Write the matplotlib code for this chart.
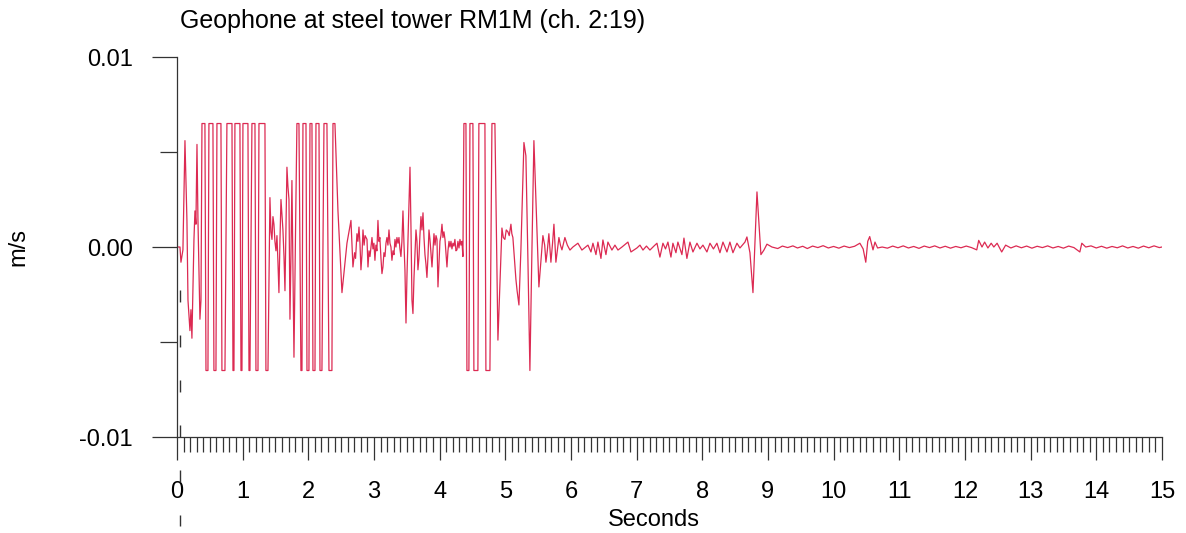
import numpy as np
import matplotlib
matplotlib.use("Agg")
import matplotlib.pyplot as plt
from matplotlib.ticker import MultipleLocator

plt.rcParams['font.family'] = ['Liberation Sans', 'DejaVu Sans']

# geophone trace as (time s, velocity mm/s); the recorder clips at +-6.5 mm/s
onset = [(0, 0), (0.046, 0), (0.061, -0.8), (0.091, -0.15), (0.122, 5.6),
         (0.152, 1.4), (0.168, -2.8), (0.198, -4.4), (0.213, -3.3), (0.228, -4.8),
         (0.259, 0.4), (0.274, 1.9), (0.289, 1.2), (0.305, 5.4), (0.320, 1.4),
         (0.350, -3.8), (0.366, -2.8), (0.381, 6.5), (0.426, 6.5), (0.442, -6.5),
         (0.472, -6.5), (0.487, 6.5), (0.548, 6.5), (0.563, -6.5), (0.594, -6.5),
         (0.609, 6.5), (0.670, 6.5), (0.685, -6.5), (0.731, -6.5), (0.761, 6.5),
         (0.838, 6.5), (0.853, -6.5), (0.868, -6.5), (0.883, 6.5), (0.959, 6.5),
         (0.975, -6.5), (0.990, -6.5), (1.005, 6.5), (1.081, 6.5), (1.097, -6.5),
         (1.112, -6.5), (1.142, 6.5), (1.188, 6.5), (1.203, -6.5), (1.234, -6.5),
         (1.249, 6.5), (1.340, 6.5), (1.355, -6.5), (1.386, -6.5), (1.416, 2.6)]

burst2 = [(1.432, 0.8), (1.447, 0.4), (1.462, 1.6), (1.477, 1.2), (1.492, 0.3),
          (1.508, -0.2), (1.523, 0.6), (1.538, -0.8), (1.553, -2.4), (1.569, 0.4),
          (1.584, 2.5), (1.599, 1.7), (1.614, 0.9), (1.630, -0.5), (1.645, -2.3),
          (1.660, 0.8), (1.675, 4.2), (1.690, 3.2), (1.706, 2.5), (1.721, -3.8),
          (1.736, -0.5), (1.751, 3.5), (1.766, -1.0), (1.782, -5.8), (1.797, -1.5),
          (1.812, 2.5), (1.827, 6.5), (1.858, 6.5), (1.888, -6.5), (1.904, -6.5),
          (1.919, 6.5), (1.965, 6.5), (1.980, -6.5), (2.010, -6.5), (2.026, 6.5),
          (2.056, 6.5), (2.071, -6.5), (2.102, -6.5), (2.117, 6.5), (2.163, 6.5),
          (2.178, -6.5), (2.208, -6.5), (2.239, 6.5), (2.284, 6.5), (2.315, -6.5),
          (2.360, -6.5), (2.376, 6.5), (2.406, 6.5), (2.452, 1.9), (2.513, -2.4),
          (2.589, 0.2), (2.650, 1.4)]

mid = [(2.680, -1.05), (2.705, -0.3), (2.720, -0.6), (2.741, 0.7), (2.756, 0.3),
       (2.772, 1.05), (2.787, 0.2), (2.802, -1.2), (2.818, -0.4), (2.833, 0.9),
       (2.850, 0.1), (2.865, 0.6), (2.894, 0.4), (2.909, -1.05), (2.925, -0.2),
       (2.940, -0.5), (2.970, 0.5), (2.985, -0.1), (3.000, 0.2), (3.015, -0.7),
       (3.030, 0.1), (3.045, -0.2), (3.061, 1.4), (3.076, 0.3), (3.090, 0.5),
       (3.107, -0.6), (3.122, -1.4), (3.137, -1.05), (3.152, -0.3), (3.168, -0.5),
       (3.183, 0.2), (3.198, 0.5), (3.213, 0.1), (3.229, 0.9), (3.244, 0.2),
       (3.259, 0.0), (3.274, -0.7), (3.290, -0.2), (3.305, -0.4), (3.320, 0.4),
       (3.335, 0.0), (3.350, 0.5), (3.366, 0.2), (3.381, 0.5), (3.396, -0.1),
       (3.411, -0.5), (3.426, 0.3), (3.442, 1.9), (3.457, 0.2), (3.472, -1.2),
       (3.488, -4.0), (3.503, -1.5), (3.518, 0.4), (3.533, 2.2), (3.549, 4.2),
       (3.564, 1.0), (3.579, -2.8), (3.594, -3.5), (3.610, -1.6), (3.625, -0.3),
       (3.640, 0.9), (3.655, 0.3), (3.670, -1.2), (3.685, -0.6), (3.700, 0.6),
       (3.716, 1.6), (3.731, 0.9), (3.747, 1.8), (3.762, 0.5), (3.777, -0.4),
       (3.792, -0.9), (3.807, -1.6), (3.823, -0.5), (3.838, 0.9), (3.853, 0.4),
       (3.868, -0.3), (3.884, -1.05), (3.899, -0.2), (3.914, 0.7), (3.930, 0.1),
       (3.945, 0.6), (3.960, 0.4), (3.975, -2.1), (3.990, -0.9), (4.005, 0.3),
       (4.020, 0.6), (4.036, 1.2), (4.051, 0.5), (4.066, 0.8), (4.082, 0.4),
       (4.097, -0.3), (4.112, -1.05), (4.127, -0.2), (4.143, 0.3), (4.158, 0.0),
       (4.173, 0.3), (4.188, -0.1), (4.203, 0.2), (4.218, 0.05), (4.233, 0.4),
       (4.249, -0.2), (4.264, -0.15), (4.279, 0.3), (4.295, -0.05), (4.310, 0.4),
       (4.325, 0.1), (4.340, 0.3), (4.355, -0.5)]

burst3 = [(4.370, 6.5), (4.401, 6.5), (4.416, -6.5), (4.446, -6.5), (4.462, 6.5),
          (4.507, 6.5), (4.522, -6.5), (4.583, -6.5), (4.598, 6.5), (4.690, 6.5),
          (4.705, -6.5), (4.766, -6.5), (4.797, 6.5), (4.842, 6.5), (4.888, -4.9),
          (4.949, 1.0), (4.970, 0.5), (4.994, 0.4), (5.015, 0.9), (5.040, 0.8),
          (5.060, 0.6), (5.086, 1.2), (5.100, 0.7), (5.116, 0.5), (5.162, -1.7),
          (5.180, -2.3), (5.208, -3.05), (5.238, -0.15), (5.284, 5.5), (5.314, 4.8),
          (5.345, -0.7), (5.375, -6.5), (5.406, -0.15), (5.436, 5.6), (5.466, 2.5),
          (5.512, -2.1), (5.543, -0.7), (5.573, 0.6), (5.600, 0.1), (5.619, -0.8),
          (5.640, -0.2), (5.664, 0.7), (5.695, -0.8), (5.720, 0.2), (5.741, 1.2),
          (5.771, -0.8), (5.795, -0.1), (5.817, 0.5), (5.840, 0.1), (5.863, -0.15),
          (5.908, 0.5), (5.945, 0.1)]

coda = [(5.985, -0.16), (6.030, 0), (6.106, 0.2), (6.167, -0.16), (6.259, 0.1),
        (6.305, -0.26), (6.335, 0.2), (6.381, -0.4), (6.411, 0.26), (6.457, -0.6),
        (6.487, 0.37), (6.533, -0.4), (6.563, 0.26), (6.624, -0.16), (6.670, 0.1),
        (6.716, -0.16), (6.777, 0), (6.868, 0.26), (6.914, -0.26), (7.005, -0.05),
        (7.051, 0.1), (7.097, -0.16), (7.150, 0.05), (7.203, -0.16), (7.264, 0.05),
        (7.310, 0.2), (7.355, -0.53), (7.401, 0.2), (7.440, -0.1), (7.477, 0.26),
        (7.523, -0.53), (7.553, 0.2), (7.599, -0.3), (7.629, 0.26), (7.690, -0.4),
        (7.721, 0.47), (7.766, -0.6), (7.812, 0.26), (7.858, -0.26), (7.919, 0.2),
        (7.965, -0.1), (8.010, 0.1), (8.071, -0.26), (8.117, 0.2), (8.170, -0.1),
        (8.223, 0.2), (8.269, -0.3), (8.315, 0.26), (8.376, -0.26), (8.421, 0.26),
        (8.467, -0.3), (8.528, 0.2), (8.574, -0.05), (8.650, 0.26), (8.680, 0.53),
        (8.726, -0.3), (8.772, -2.4), (8.833, 2.9), (8.893, -0.4), (8.939, -0.16),
        (8.985, 0.15), (9.061, 0)]

tail = [(9.15, -0.08), (9.22, 0.05), (9.30, -0.03), (9.38, 0.06), (9.45, -0.05),
        (9.53, 0.04), (9.60, -0.08), (9.68, 0.05), (9.76, -0.03), (9.84, 0.07),
        (9.92, -0.05), (10.00, 0.03), (10.08, -0.06), (10.16, 0.05), (10.24, -0.03),
        (10.32, 0.04), (10.40, 0.2), (10.45, -0.1), (10.49, -0.8), (10.52, 0.3),
        (10.55, 0.55), (10.60, -0.15), (10.63, 0.26), (10.67, -0.05), (10.74, 0),
        (10.82, -0.06), (10.90, 0.05), (10.98, -0.04), (11.06, 0.06), (11.14, -0.05),
        (11.22, 0.03), (11.30, -0.07), (11.38, 0.05), (11.46, -0.03), (11.54, 0.06),
        (11.62, -0.05), (11.70, 0.04), (11.78, -0.06), (11.86, 0.03), (11.94, -0.04),
        (12.02, 0.05), (12.10, -0.03), (12.18, -0.15), (12.21, 0.35), (12.26, 0),
        (12.30, 0.26), (12.35, -0.05), (12.40, 0.2), (12.44, 0), (12.49, 0.2),
        (12.56, -0.26), (12.62, 0.1), (12.70, -0.05), (12.78, 0.06), (12.86, -0.04),
        (12.94, 0.05), (13.02, -0.06), (13.10, 0.04), (13.18, -0.03), (13.26, 0.06),
        (13.34, -0.05), (13.42, 0.03), (13.50, -0.06), (13.58, 0.05), (13.66, -0.03),
        (13.75, -0.26), (13.78, 0.2), (13.84, 0), (13.92, 0.06), (14.00, -0.05),
        (14.08, 0.04), (14.16, -0.06), (14.24, 0.03), (14.32, -0.04), (14.40, 0.06),
        (14.48, -0.05), (14.56, 0.03), (14.64, -0.06), (14.72, 0.05), (14.80, -0.04),
        (14.88, 0.06), (14.96, -0.03), (15.00, 0)]

y_ticks = [-0.01, 0.0, 0.01]
y_labels = ["-0.01", "0.00", "0.01"]
x_ticks = list(range(16))

trace = np.array(onset + burst2 + mid + burst3 + coda + tail)
t = trace[:, 0]
v = trace[:, 1] * 1e-3  # mm/s -> m/s

axis_col = "#333333"
fs = 17

fig = plt.figure(figsize=(11.86, 5.33), dpi=100)
ax = fig.add_axes([0.1492, 0.1801, 0.8305, 0.7129])

ax.plot(t, v, color="#dc2a52", lw=0.9)

# trigger marker below the trace
ax.plot([0.046, 0.046], [-0.00226, -0.0147], color=axis_col, lw=1,
        dashes=(8.6, 23.8), clip_on=False)

ax.set_xlim(0, 15)
ax.set_ylim(-0.01, 0.01)
for s in ["top", "right"]:
    ax.spines[s].set_visible(False)
for s in ["left", "bottom"]:
    ax.spines[s].set_color(axis_col)
    ax.spines[s].set_linewidth(0.9)

ax.set_xticks(x_ticks)
ax.set_xticklabels([str(x) for x in x_ticks])
ax.xaxis.set_minor_locator(MultipleLocator(0.1))
ax.set_yticks(y_ticks)
ax.set_yticklabels(y_labels)
ax.set_yticks([-0.005, 0.005], minor=True)

ax.tick_params(axis="x", which="major", length=16.5, width=0.9, color=axis_col,
               pad=15, labelsize=fs)
ax.tick_params(axis="x", which="minor", length=10.5, width=0.9, color=axis_col)
ax.tick_params(axis="y", which="major", length=18, width=0.9, color=axis_col,
               pad=14, labelsize=fs)
ax.tick_params(axis="y", which="minor", length=12, width=0.9, color=axis_col)

ax.set_xlabel("Seconds", fontsize=fs, va="center")
ax.xaxis.set_label_coords(0.484, -0.218)
ax.set_ylabel("m/s", fontsize=fs, va="center", ha="center")
ax.yaxis.set_label_coords(-0.161, 0.5)
ax.set_title("Geophone at steel tower RM1M (ch. 2:19)", loc="left", x=0.003,
             fontsize=18, pad=21)

fig.savefig("out.png", dpi=100)
